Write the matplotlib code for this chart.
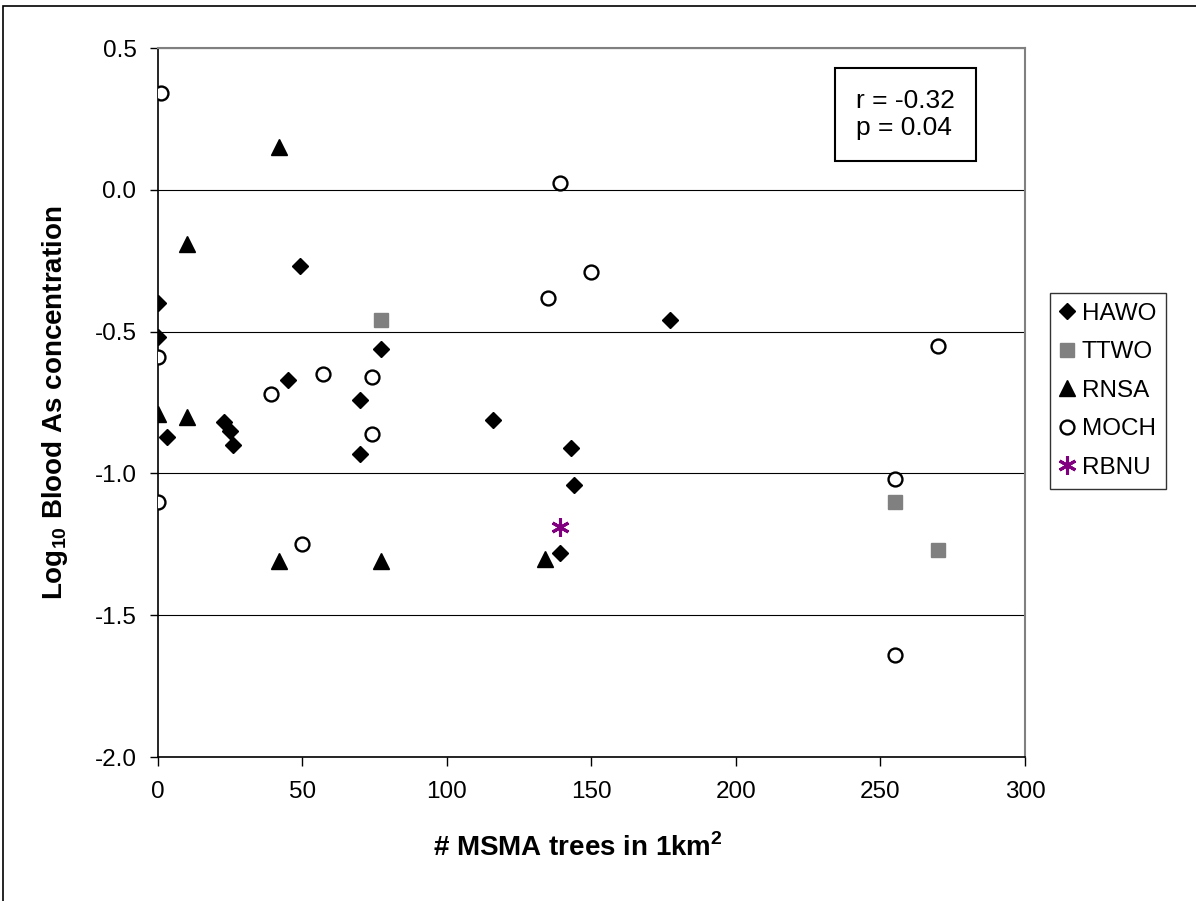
import matplotlib
matplotlib.use("Agg")  # Sin pantalla
import matplotlib.pyplot as plt
from matplotlib.patches import Rectangle

# -------------------- DATA --------------------
# x = number of MSMA trees in 1 km2, y = log10 blood As concentration
hawo_x = [0, 0, 3, 23, 25, 26, 45, 49, 70, 70, 77, 116, 139, 143, 144, 177]
hawo_y = [-0.40, -0.52, -0.87, -0.82, -0.85, -0.90, -0.67, -0.27, -0.74, -0.93,
          -0.56, -0.81, -1.28, -0.91, -1.04, -0.46]

ttwo_x = [77, 255, 270]
ttwo_y = [-0.46, -1.10, -1.27]

rnsa_x = [0, 10, 10, 42, 42, 77, 134]
rnsa_y = [-0.79, -0.19, -0.80, 0.15, -1.31, -1.31, -1.30]

moch_x = [0, 0, 1, 39, 50, 57, 74, 74, 135, 139, 150, 255, 255, 270]
moch_y = [-0.59, -1.10, 0.34, -0.72, -1.25, -0.65, -0.66, -0.86, -0.38, 0.025,
          -0.29, -1.02, -1.64, -0.55]

rbnu_x = [139]
rbnu_y = [-1.19]

stats_text = "r = -0.32\np = 0.04"

x_ticks = [0, 50, 100, 150, 200, 250, 300]
y_ticks = [-2.0, -1.5, -1.0, -0.5, 0.0, 0.5]

# -------------------- STYLE --------------------
plt.rcParams['font.family'] = ['Liberation Sans', 'DejaVu Sans']
plt.rcParams['mathtext.fontset'] = 'custom'
plt.rcParams['mathtext.rm'] = 'Liberation Sans'
plt.rcParams['mathtext.bf'] = 'Liberation Sans:bold'

fig = plt.figure(figsize=(11.96, 9.01), dpi=100)
ax = fig.add_axes([0.1321, 0.1598, 0.7249, 0.7869])

# marco exterior del grafico (Excel chart area)
fig.patches.append(Rectangle((3 / 1196, -0.05), 1.2, 1.05 - 6 / 901, transform=fig.transFigure,
                             fill=False, edgecolor='black', linewidth=1.2, zorder=0))

# -------------------- PUNTOS --------------------
ax.plot(hawo_x, hawo_y, linestyle='none', marker='D', markersize=8,
        color='black', label='HAWO', zorder=3)
ax.plot(ttwo_x, ttwo_y, linestyle='none', marker='s', markersize=10.5,
        color='#808080', label='TTWO', zorder=3)
ax.plot(rnsa_x, rnsa_y, linestyle='none', marker='^', markersize=11.5,
        color='black', label='RNSA', zorder=3)
ax.plot(moch_x, moch_y, linestyle='none', marker='o', markersize=10,
        markerfacecolor='white', markeredgecolor='black', markeredgewidth=1.7,
        label='MOCH', zorder=3)
ax.plot(rbnu_x, rbnu_y, linestyle='none', marker=(6, 2, 0), markersize=13,
        markeredgewidth=2.2, color='#800080', label='RBNU', zorder=3)

# -------------------- EJES --------------------
ax.set_xlim(0, 300)
ax.set_ylim(-2.0, 0.5)
ax.set_xticks(x_ticks)
ax.set_yticks(y_ticks)
ax.set_xticklabels([str(t) for t in x_ticks])
ax.set_yticklabels([f"{t:.1f}" for t in y_ticks])
ax.tick_params(axis='x', direction='out', length=6.5, width=1, pad=11, labelsize=17.5)
ax.tick_params(axis='y', direction='out', length=6, width=1, pad=9.5, labelsize=17.5)

ax.yaxis.grid(True, color='black', linewidth=0.8)
ax.set_axisbelow(True)

for lado in ['top', 'right']:
    ax.spines[lado].set_color('#808080')
    ax.spines[lado].set_linewidth(1.5)
for lado in ['left', 'bottom']:
    ax.spines[lado].set_color('black')
    ax.spines[lado].set_linewidth(1.2)

ax.set_xlabel(r"# MSMA trees in 1km$^{\mathbf{2}}$", fontsize=20, fontweight='bold')
ax.set_ylabel(r"Log$_{\mathbf{10}}$ Blood As concentration", fontsize=20, fontweight='bold')
ax.xaxis.set_label_coords(0.4845, -0.128)
ax.xaxis.label.set_va('center')
ax.yaxis.set_label_coords(-0.1015, 0.5)

# -------------------- CUADRO DE ESTADISTICOS --------------------
ax.text(0.805, 0.9424, stats_text, transform=ax.transAxes, ha='left', va='top',
        fontsize=19, linespacing=1.15,
        bbox=dict(boxstyle='square,pad=0.8', facecolor='white', edgecolor='black', linewidth=1.5))

# -------------------- LEYENDA --------------------
fig.legend(loc='upper left', bbox_to_anchor=(1050 / 1196, 1 - 293 / 901),
           fontsize=17.5, frameon=True, fancybox=False, edgecolor='black',
           handlelength=0.6, handletextpad=0.3, borderpad=0.4, labelspacing=0.68,
           borderaxespad=0)

fig.savefig("out.png", dpi=100)
